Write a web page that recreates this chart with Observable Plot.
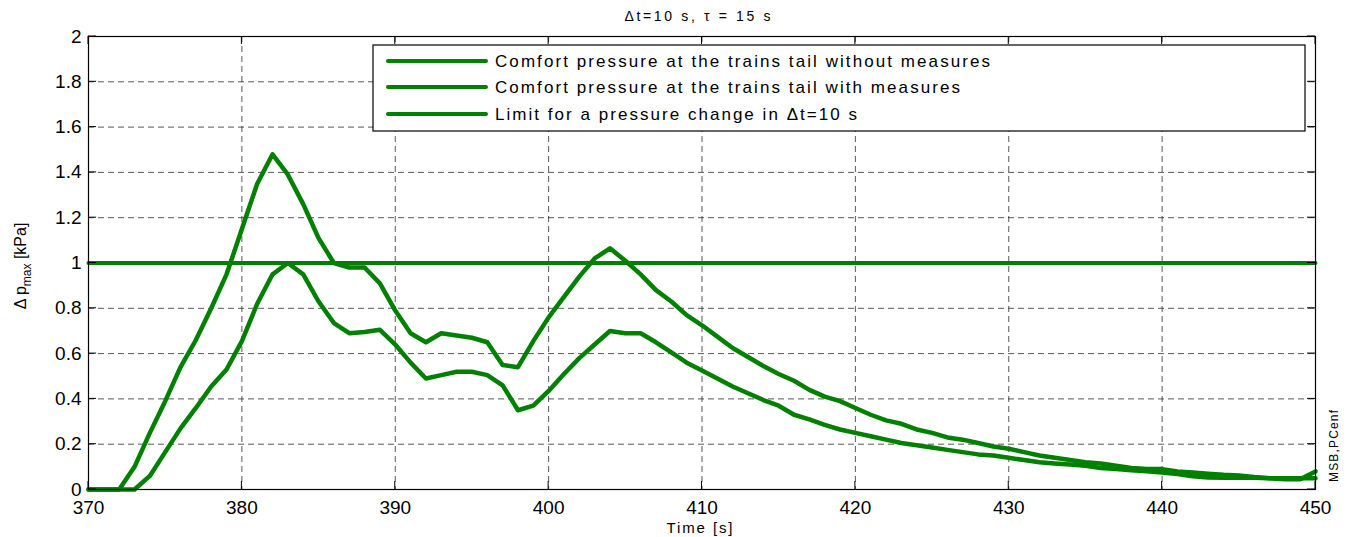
<!DOCTYPE html>
<html>
<head>
<meta charset="utf-8">
<script src="https://cdn.jsdelivr.net/npm/d3@7"></script>
<script src="https://cdn.jsdelivr.net/npm/@observablehq/plot@0.6"></script>
<style>
  html, body { margin: 0; padding: 0; background: #fff; }
  svg { font-family: "Liberation Sans", Arial, sans-serif; }
</style>
</head>
<body>
<div id="chart"></div>
<script>
// ---- data ----
const times = [370,371,372,373,374,375,376,377,378,379,380,381,382,383,384,385,386,387,388,389,
  390,391,392,393,394,395,396,397,398,399,400,401,402,403,404,405,406,407,408,409,
  410,411,412,413,414,415,416,417,418,419,420,421,422,423,424,425,426,427,428,429,
  430,431,432,433,434,435,436,437,438,439,440,441,442,443,444,445,446,447,448,449,450];

const withoutMeasures = [0,0,0,0.10,0.25,0.39,0.54,0.66,0.80,0.95,
  1.15,1.35,1.48,1.39,1.26,1.11,1.00,0.98,0.98,0.91,
  0.79,0.69,0.65,0.69,0.68,0.67,0.65,0.55,0.54,0.655,
  0.76,0.85,0.94,1.02,1.065,1.01,0.95,0.88,0.83,0.77,
  0.725,0.675,0.625,0.585,0.545,0.51,0.48,0.44,0.41,0.39,
  0.36,0.33,0.305,0.29,0.265,0.25,0.23,0.22,0.205,0.19,
  0.18,0.165,0.15,0.14,0.13,0.12,0.115,0.105,0.095,0.09,
  0.09,0.08,0.075,0.07,0.065,0.062,0.055,0.05,0.045,0.045,0.08];

const withMeasures = [0,0,0,0,0.06,0.165,0.27,0.36,0.455,0.53,
  0.655,0.82,0.95,1.0,0.95,0.83,0.735,0.69,0.695,0.705,
  0.64,0.56,0.49,0.505,0.52,0.52,0.505,0.46,0.35,0.37,
  0.435,0.51,0.58,0.64,0.70,0.69,0.69,0.65,0.605,0.56,
  0.525,0.49,0.455,0.425,0.395,0.37,0.33,0.31,0.285,0.265,
  0.25,0.235,0.22,0.205,0.195,0.185,0.175,0.165,0.155,0.15,
  0.14,0.13,0.12,0.115,0.11,0.105,0.095,0.09,0.085,0.08,
  0.075,0.068,0.058,0.053,0.052,0.052,0.052,0.05,0.05,0.05,0.05];

const limitValue = 1;
const limitTimes = [370, 450];

const seriesNames = [
  "Comfort pressure at the trains tail without measures",
  "Comfort pressure at the trains tail with measures",
  "Limit for a pressure change in \u0394t=10 s"
];
const xTicks = [370,380,390,400,410,420,430,440,450];
const yTicks = [0,0.2,0.4,0.6,0.8,1,1.2,1.4,1.6,1.8,2];
const titleText = "\u0394t=10 s, \u03c4 = 15 s";
const xLabel = "Time [s]";
const sideNote = "MSB,PCenf";

// ---- build rows ----
const rows1 = times.map((t, i) => ({t, v: withoutMeasures[i]}));
const rows2 = times.map((t, i) => ({t, v: withMeasures[i]}));
const rowsL = limitTimes.map(t => ({t, v: limitValue}));

const green = "#008000";
const W = 1351, H = 537;
const mL = 88, mR = 36, mT = 36, mB = 48;

const chart = Plot.plot({
  width: W, height: H,
  marginLeft: mL, marginRight: mR, marginTop: mT, marginBottom: mB,
  style: {fontFamily: '"Liberation Sans", Arial, sans-serif', background: "#fff"},
  x: {domain: [370, 450], ticks: xTicks, label: null},
  y: {domain: [0, 2], ticks: yTicks, label: null},
  marks: [
    Plot.gridX(xTicks.slice(1, -1), {stroke: "#222", strokeOpacity: 0.75, strokeDasharray: "6,4"}),
    Plot.gridY(yTicks.slice(1, -1), {stroke: "#222", strokeOpacity: 0.75, strokeDasharray: "6,4"}),
    Plot.axisX(xTicks, {anchor: "bottom", tickSize: 0, tickPadding: 11, fontSize: 19, tickFormat: d => d}),
    Plot.axisY(yTicks, {anchor: "left", tickSize: 0, tickPadding: 7, fontSize: 19, tickFormat: d => d}),
    Plot.line(rowsL, {x: "t", y: "v", stroke: green, strokeWidth: 4}),
    Plot.line(rows2, {x: "t", y: "v", stroke: green, strokeWidth: 4.5, strokeLinejoin: "round"}),
    Plot.line(rows1, {x: "t", y: "v", stroke: green, strokeWidth: 4.5, strokeLinejoin: "round"}),
    Plot.frame({stroke: "#000", strokeWidth: 1.2})
  ]
});

document.getElementById("chart").appendChild(chart);

const svg = d3.select(chart);
const sx = chart.scale("x"), sy = chart.scale("y");
const x0 = sx.apply(370), x1 = sx.apply(450), y0 = sy.apply(0), y1 = sy.apply(2);

// ---- inward ticks on all four sides ----
const tg = svg.append("g").attr("stroke", "#000").attr("stroke-width", 1);
xTicks.forEach(t => {
  const px = sx.apply(t);
  tg.append("line").attr("x1", px).attr("x2", px).attr("y1", y0).attr("y2", y0 - 8);
  tg.append("line").attr("x1", px).attr("x2", px).attr("y1", y1).attr("y2", y1 + 8);
});
yTicks.forEach(v => {
  const py = sy.apply(v);
  tg.append("line").attr("x1", x0).attr("x2", x0 + 8).attr("y1", py).attr("y2", py);
  tg.append("line").attr("x1", x1).attr("x2", x1 - 8).attr("y1", py).attr("y2", py);
});

// ---- title ----
svg.append("text").attr("x", (x0 + x1) / 2 - 4).attr("y", 21)
  .attr("text-anchor", "middle").attr("font-size", 14).attr("fill", "#000")
  .attr("textLength", 146).attr("lengthAdjust", "spacing")
  .text(titleText);

// ---- x label ----
svg.append("text").attr("x", (x0 + x1) / 2 - 2).attr("y", 533)
  .attr("text-anchor", "middle").attr("font-size", 15).attr("fill", "#000")
  .attr("textLength", 66).attr("lengthAdjust", "spacing")
  .text(xLabel);

// ---- side note ----
svg.append("text").attr("transform", `translate(1338,482) rotate(-90)`)
  .attr("text-anchor", "start").attr("font-size", 12).attr("fill", "#000")
  .attr("textLength", 72).attr("lengthAdjust", "spacing")
  .text(sideNote);

// ---- y label with subscript ----
const yl = svg.append("text")
  .attr("transform", `translate(26,266) rotate(-90)`)
  .attr("text-anchor", "middle")
  .attr("font-size", 16)
  .attr("fill", "#000");
yl.append("tspan").text("\u0394 p");
yl.append("tspan").attr("font-size", 12).attr("dy", 5).text("max");
yl.append("tspan").attr("dy", -5).text(" [kPa]");

// ---- legend ----
const lg = svg.append("g");
lg.append("rect").attr("x", 373).attr("y", 45).attr("width", 932).attr("height", 86)
  .attr("fill", "#fff").attr("stroke", "#000").attr("stroke-width", 1.2);
const rowY = [61, 87, 114];
const textLen = [495, 465, 362];
seriesNames.forEach((name, i) => {
  lg.append("line").attr("x1", 388).attr("x2", 486).attr("y1", rowY[i]).attr("y2", rowY[i])
    .attr("stroke", green).attr("stroke-width", 4).attr("stroke-linecap", "round");
  lg.append("text").attr("x", 495).attr("y", rowY[i] + 6)
    .attr("text-anchor", "start")
    .attr("font-size", 17).attr("fill", "#000")
    .attr("textLength", textLen[i]).attr("lengthAdjust", "spacing")
    .text(name);
});
</script>
</body>
</html>
